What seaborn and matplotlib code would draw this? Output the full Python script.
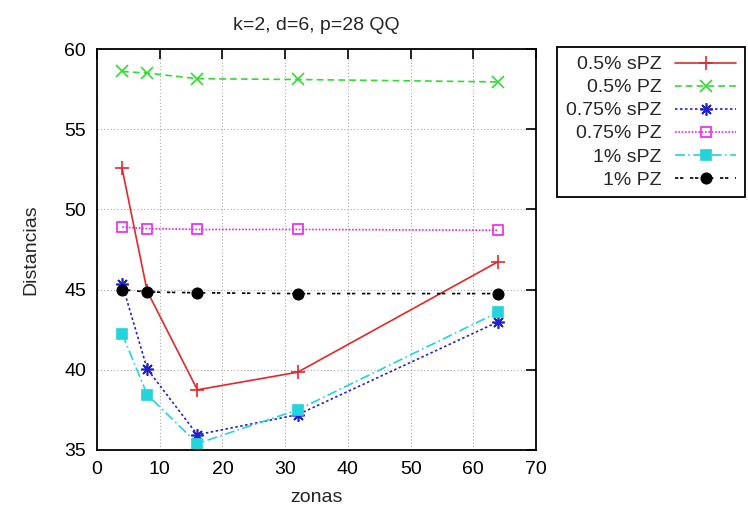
import matplotlib
matplotlib.use("Agg")
import matplotlib.pyplot as plt
import seaborn as sns
import pandas as pd

zonas = [4, 8, 16, 32, 64]
labels = ["0.5% sPZ", "0.5% PZ", "0.75% sPZ", "0.75% PZ", "1% sPZ", "1% PZ"]
s05_spz = [52.55, 44.9, 38.75, 39.85, 46.75]
s05_pz = [58.6, 58.5, 58.15, 58.1, 57.95]
s075_spz = [45.35, 40.05, 35.95, 37.2, 43.0]
s075_pz = [48.9, 48.8, 48.75, 48.75, 48.7]
s1_spz = [42.25, 38.45, 35.4, 37.5, 43.6]
s1_pz = [45.0, 44.85, 44.8, 44.75, 44.75]
values = [s05_spz, s05_pz, s075_spz, s075_pz, s1_spz, s1_pz]

colors = ["#e8262a", "#2fdc2f", "#2222cc", "#ee22ee", "#22d4dc", "#000000"]
markers = ["+", "x", (8, 2, 0), "s", "s", "o"]
mfc = [None, None, None, "none", None, None]
dashes = [(None, None), (4, 2.5), (1.5, 1.5), (1, 1), (6, 2, 1, 2), (2, 1, 2, 4)]
msizes = [10, 8, 9, 7.5, 6.5, 7.5]

sns.set_style("white")
plt.rcParams['font.family'] = ['Liberation Sans', 'DejaVu Sans']

FS = 14
fig = plt.figure(figsize=(7.48, 5.16), dpi=100)
ax = fig.add_axes([0.1297, 0.128, 0.587, 0.777])

for i, (lab, vals) in enumerate(zip(labels, values)):
    df = pd.DataFrame({"zonas": zonas, "Distancias": vals})
    kw = {}
    if mfc[i] is not None:
        kw["markerfacecolor"] = mfc[i]
    sns.lineplot(data=df, x="zonas", y="Distancias", ax=ax, color=colors[i],
                 marker=markers[i], markersize=msizes[i], label=lab,
                 linewidth=1.2, markeredgewidth=1.2, markeredgecolor=colors[i], **kw)
    line = ax.get_lines()[-1]
    if dashes[i] != (None, None):
        line.set_dashes(dashes[i])

ax.set_xlim(0, 70)
ax.set_ylim(35, 60)
ax.set_xticks(range(0, 71, 10))
ax.set_yticks(range(35, 61, 5))
ax.grid(True, linestyle=(0, (1, 2)), color="#aaaaaa", linewidth=0.8)
ax.tick_params(direction="in", length=7, width=1.2, top=True, right=True,
               labelsize=FS, pad=8, colors="black")
for sp in ax.spines.values():
    sp.set_color("black")
    sp.set_linewidth(1.3)
ax.set_xlabel("zonas", fontsize=FS, labelpad=8)
ax.set_ylabel("Distancias", fontsize=FS, labelpad=18)
ax.set_title("k=2, d=6, p=28 QQ", fontsize=FS, pad=14)

leg = ax.legend(loc="upper left", bbox_to_anchor=(0.745, 0.909),
                bbox_transform=fig.transFigure, markerfirst=False, fontsize=FS,
                frameon=True, fancybox=False, edgecolor="black", framealpha=1,
                handlelength=3.15, labelspacing=0.28, borderpad=0.45, handletextpad=0.7,
                borderaxespad=0)
leg.get_frame().set_linewidth(1.3)

fig.savefig("out.png", dpi=100)
